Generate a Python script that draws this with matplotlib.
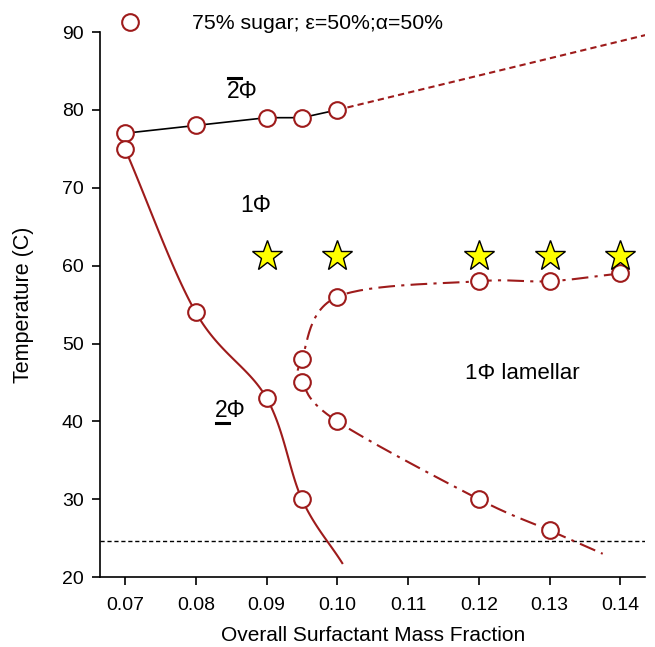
import matplotlib
matplotlib.use("Agg")
import matplotlib.pyplot as plt
import numpy as np
from matplotlib.lines import Line2D

plt.rcParams['font.family'] = ['Liberation Sans', 'DejaVu Sans']

# measured points
top_x = [0.07, 0.08, 0.09, 0.095, 0.10]
top_y = [77, 78, 79, 79, 80]
top_ext_x = [0.10, 0.1435]
top_ext_y = [80, 89.6]

left_x = [0.07, 0.08, 0.09, 0.095]
left_y = [75, 54, 43, 30]
left_line_x = [0.07, 0.08, 0.09, 0.095, 0.1007]
left_line_y = [75, 54, 43, 30, 21.8]

lam_x = [0.14, 0.13, 0.12, 0.10, 0.095, 0.095, 0.10, 0.12, 0.13]
lam_y = [59, 58, 58, 56, 48, 45, 40, 30, 26]
lam_line_x = [0.14, 0.13, 0.12, 0.10, 0.095, 0.095, 0.10, 0.12, 0.13, 0.1375]
lam_line_y = [59, 58, 58, 56, 48, 45, 40, 30, 26, 23]

star_x = [0.09, 0.10, 0.12, 0.13, 0.14]
star_y = [61.3, 61.3, 61.3, 61.3, 61.3]

room_temp = 24.6
xticks = [0.07, 0.08, 0.09, 0.10, 0.11, 0.12, 0.13, 0.14]
yticks = [20, 30, 40, 50, 60, 70, 80, 90]

RED = '#9e1b1b'


def smooth(xs, ys, n=30):
    # Catmull-Rom through points, in roughly pixel-scaled space
    p = np.column_stack([np.array(xs) * 100.0, np.array(ys) / 10.0])
    p = np.vstack([2 * p[0] - p[1], p, 2 * p[-1] - p[-2]])
    out = []
    for i in range(1, len(p) - 2):
        p0, p1, p2, p3 = p[i - 1], p[i], p[i + 1], p[i + 2]
        t = np.linspace(0, 1, n, endpoint=False)[:, None]
        seg = 0.5 * ((2 * p1) + (-p0 + p2) * t + (2 * p0 - 5 * p1 + 4 * p2 - p3) * t ** 2
                     + (-p0 + 3 * p1 - 3 * p2 + p3) * t ** 3)
        out.append(seg)
    out.append(p[-2][None, :])
    out = np.vstack(out)
    return out[:, 0] / 100.0, out[:, 1] * 10.0


fig = plt.figure(figsize=(6.55, 6.47), dpi=100)
ax = fig.add_axes([0.153, 0.108, 0.832, 0.8425])

ax.axhline(room_temp, color='black', ls=(0, (3, 2)), lw=1)

ax.plot(top_x, top_y, color='black', lw=1.2)
ax.plot(top_ext_x, top_ext_y, color=RED, ls=(0, (3, 2)), lw=1.5)

sx, sy = smooth(left_line_x, left_line_y)
ax.plot(sx, sy, color=RED, lw=1.5)

sx, sy = smooth(lam_line_x, lam_line_y)
ax.plot(sx, sy, color=RED, lw=1.5, ls=(0, (8, 3, 1.5, 3)))

mk = dict(ls='none', marker='o', ms=12, mfc='white', mec=RED, mew=1.5, zorder=5)
ax.plot(top_x, top_y, **mk)
ax.plot(left_x, left_y, **mk)
ax.plot(lam_x, lam_y, **mk)

ax.plot(star_x, star_y, ls='none', marker='*', ms=23, mfc='#ffff00', mec='black', mew=1, zorder=6)

t_over = ax.text(0.0866, 82.3, '2Φ', fontsize=16.5, ha='center', va='center')
ax.text(0.0884, 67.7, '1Φ', fontsize=16.5, ha='center', va='center')
t_under = ax.text(0.0849, 41.4, '2Φ', fontsize=16.5, ha='center', va='center')
ax.text(0.1261, 46.2, '1Φ lamellar', fontsize=16, ha='center', va='center')

h = Line2D([], [], ls='none', marker='o', ms=12, mfc='white', mec=RED, mew=1.5)
ax.legend([h], ['75% sugar; ε=50%;α=50%'], loc='center left', bbox_to_anchor=(0.17, 0.963),
          bbox_transform=fig.transFigure, frameon=False, fontsize=15.3, handletextpad=2.4,
          handlelength=1.0, borderaxespad=0)

ax.set_xlim(0.0665, 0.1435)
ax.set_ylim(20, 90)
ax.set_xticks(xticks)
ax.set_xticklabels(['%.2f' % v for v in xticks])
ax.set_yticks(yticks)
ax.tick_params(labelsize=14, direction='out', length=6, width=1.2)
ax.tick_params(axis='x', pad=8)
ax.tick_params(axis='y', pad=6)
ax.spines['top'].set_visible(False)
ax.spines['right'].set_visible(False)
ax.spines['left'].set_linewidth(1.2)
ax.spines['bottom'].set_linewidth(1.2)
ax.set_xlabel('Overall Surfactant Mass Fraction', fontsize=15, labelpad=9)
ax.set_ylabel('Temperature (C)', fontsize=15.5, labelpad=20)

# bar over / under the "2"
fig.canvas.draw()
r = fig.canvas.get_renderer()
for t, top in [(t_over, True), (t_under, False)]:
    bb = t.get_window_extent(r)
    x0, x1 = bb.x0 + 0.5, bb.x0 + 0.45 * bb.width
    yy = bb.y1 + 2 if top else bb.y0 - 1
    fig.add_artist(Line2D([x0 / fig.bbox.width, x1 / fig.bbox.width],
                          [yy / fig.bbox.height, yy / fig.bbox.height],
                          color='black', lw=2.2))

fig.savefig('out.png', dpi=100)
